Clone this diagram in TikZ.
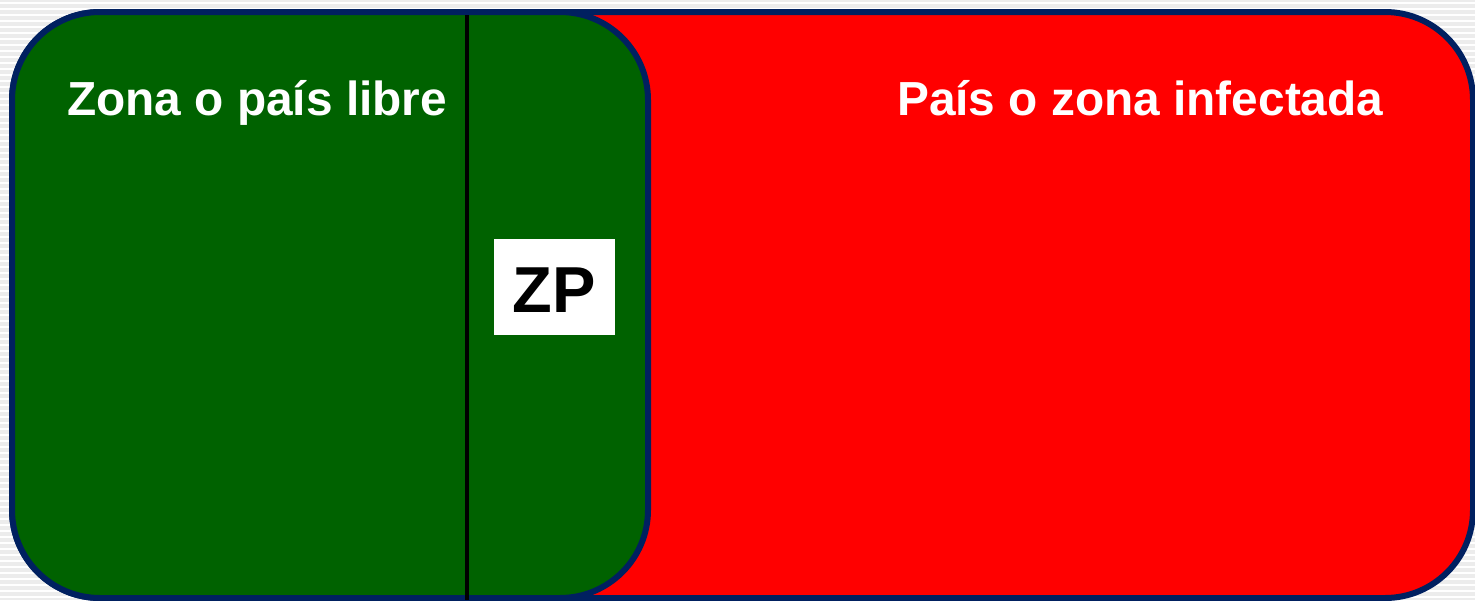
\documentclass[tikz,border=0pt]{standalone}
\usepackage{fontspec}
\setmainfont{Liberation Sans}
\definecolor{zgreen}{RGB}{0,98,0}
\definecolor{zred}{RGB}{255,0,0}
\definecolor{zborder}{RGB}{0,32,96}
\definecolor{zback}{RGB}{236,236,236}
\tikzset{
  zonebox/.style={draw=zborder,line width=6pt,rounded corners=88pt},
  zonetitle/.style={text=white,font=\fontsize{47.8}{58}\selectfont\bfseries,inner sep=0pt,anchor=base west},
}

\begin{document}
\begin{tikzpicture}[x=1pt,y=-1pt]
    \useasboundingbox (0,0) rectangle (1475,600);
    
    % striped background
    \fill[zback] (0,0) rectangle (1475,600);
    \foreach \yy in {2,8,...,600}
        \fill[white] (0,\yy) rectangle (1475,\yy+2);
    
    % infected zone and free zone
    \draw[zonebox,fill=zred] (12,12) rectangle (1473,598);
    \draw[zonebox,fill=zgreen] (12,12) rectangle (648,598);
    \draw[line width=4pt] (467,15) -- (467,600);
    
    \node[zonetitle] (libre) at (67,115) {Zona o país libre};
    \node[zonetitle] (infect) at (897,115) {País o zona infectada};
    
    % protection zone
    \fill[white] (494,239) rectangle (615,335);
    \node[font=\fontsize{65}{78}\selectfont\bfseries,inner sep=0pt,anchor=base] (zp) at (554,312) {ZP};
\end{tikzpicture}
\end{document}
